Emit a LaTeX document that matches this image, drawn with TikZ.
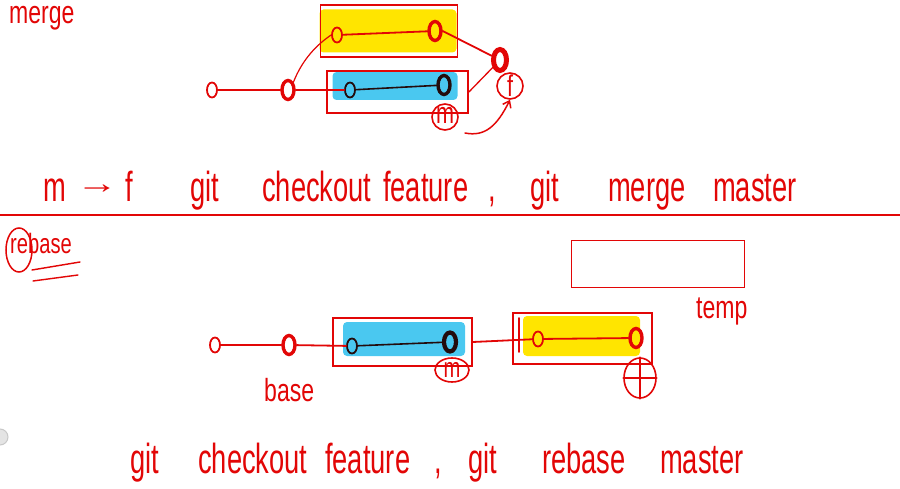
\documentclass[tikz,border=0pt]{standalone}
\usepackage{fontspec}
\setmainfont{Liberation Sans}
\newfontfamily\hand[FakeStretch=0.72]{Liberation Sans}
\newfontfamily\handnarrow[FakeStretch=0.65]{Liberation Sans}
\usetikzlibrary{shapes.geometric,arrows.meta}
\definecolor{pen}{RGB}{226,6,6}
\definecolor{hlyellow}{RGB}{255,229,0}
\definecolor{hlblue}{RGB}{74,200,240}
\definecolor{ink}{RGB}{35,12,12}
\definecolor{btn}{RGB}{200,200,200}
\begin{document}
\begin{tikzpicture}[x=1pt,y=-1pt,
  pen line/.style={draw=pen,line width=1.8pt,line cap=round,line join=round},
  ink line/.style={draw=ink,line width=1.6pt,line cap=round},
  commit/.style={ellipse,draw=pen,line width=1.8pt,minimum width=10pt,minimum height=15pt,inner sep=0pt},
  head commit/.style={commit,line width=3.4pt,minimum width=12pt,minimum height=19pt},
  dark commit/.style={commit,draw=ink},
  dark head/.style={head commit,draw=ink,line width=4.2pt},
  frame/.style={rectangle,draw=pen,line width=1.8pt,inner sep=0pt},
  highlight/.style={rectangle,inner sep=0pt,rounded corners=4pt},
  words/.style={text=pen,inner sep=0pt,anchor=base west,font=\handnarrow\fontsize{42}{44}\selectfont},
  tag/.style={circle,draw=pen,line width=1.6pt,text=pen,inner sep=0pt,minimum size=26pt,font=\hand\fontsize{30}{30}\selectfont},
  low letter/.style={text height=14pt,text depth=0pt}]
\useasboundingbox (0,0) rectangle (900,489);

% ---------------- merge ----------------
\node[words,font=\hand\fontsize{32}{32}\selectfont] (titleMerge) at (9,24) {merge};

\node[highlight,fill=hlyellow,minimum width=137pt,minimum height=43pt] (mYellowFill) at (388,31) {};
\node[highlight,fill=hlblue,minimum width=125pt,minimum height=28pt] (mBlueFill) at (395,86) {};
\node[frame,minimum width=137pt,minimum height=52pt] (mYellowBox) at (389,31) {};
\node[frame,minimum width=141pt,minimum height=42pt] (mBlueBox) at (397.5,92) {};

\node[commit] (mo0) at (212,90) {};
\node[head commit] (mo1) at (288,90) {};
\node[dark commit] (mb1) at (350,90) {};
\node[dark head,line width=3.4pt] (mb2) at (444,85) {};
\node[commit] (my1) at (337,35) {};
\node[head commit] (my2) at (435,31) {};
\node[head commit,line width=5pt,minimum width=13pt,minimum height=21pt] (mm) at (500,60) {};
\node[tag] (mf) at (510,86) {f};
\node[tag,low letter] (mmaster) at (445,117) {m};

\draw[pen line] (mo0) -- (mo1);
\draw[pen line] (mo1) -- (mb1);
\draw[ink line] (mb1) -- (mb2);
\draw[pen line] (my1) -- (my2);
\draw[pen line,line width=1.2pt] (mo1.north east) .. controls (303,58) and (318,44) .. (my1.west);
\draw[pen line] (my2.east) -- (mm);
\draw[pen line,line width=1.3pt] (mBlueBox.east) -- (mm);
\coordinate (arrowTail) at (465,133);
\draw[pen line,line width=1.5pt,-{Straight Barb[length=6pt,width=9pt]}] (arrowTail) .. controls (485,137) and (497,126) .. (mf.south);

% command line 1
\node[words] (l1m) at (43,202) {m};
\node[words,font=\fontsize{30}{30}\selectfont] (l1arrow) at (76,194) {\scalebox{1.4}[1]{→}};
\node[words] (l1f) at (125,202) {f};
\node[words] (l1git) at (190,202) {git};
\node[words] (l1checkout) at (262,202) {checkout};
\node[words] (l1feature) at (383,202) {feature};
\node[words] (l1comma) at (488,202) {,};
\node[words] (l1git2) at (530,202) {git};
\node[words] (l1merge) at (608,202) {merge};
\node[words] (l1master) at (713,202) {master};

\draw[pen line,line width=1.5pt] (0,215) -- (900,215);

% ---------------- rebase ----------------
\node[words,font=\hand\fontsize{28}{28}\selectfont] (titleRebase) at (10,254) {rebase};
\node[ellipse,draw=pen,line width=1.5pt,minimum width=26pt,minimum height=44pt] (rCircle) at (19,250) {};
\draw[pen line,line width=1.4pt] (32,270) -- (80,262);
\draw[pen line,line width=1.4pt] (33,281) -- (78,275);

\node[frame,minimum width=173pt,minimum height=47pt] (tempBox) at (658,264) {};
\node[words,font=\hand\fontsize{32}{32}\selectfont] (tempLabel) at (696,318) {temp};

\node[highlight,fill=hlblue,minimum width=122pt,minimum height=34pt] (rBlueFill) at (404,339) {};
\node[highlight,fill=hlyellow,minimum width=117pt,minimum height=40pt] (rYellowFill) at (581.5,336) {};
\node[frame,minimum width=139pt,minimum height=48pt] (rBlueBox) at (402.5,342) {};
\node[frame,minimum width=139pt,minimum height=51pt] (rYellowBox) at (582.5,338.5) {};
\draw[pen line] (519,318) -- (519,352);

\node[commit] (ro0) at (215,345) {};
\node[head commit] (ro1) at (289,345) {};
\node[dark commit] (rb1) at (352,346) {};
\node[dark head] (rb2) at (450,342) {};
\node[commit] (ry1) at (538,339) {};
\node[head commit] (ry2) at (636,338) {};
\node[ellipse,draw=pen,line width=1.6pt,text=pen,inner sep=0pt,minimum width=34pt,minimum height=24pt,font=\hand\fontsize{28}{28}\selectfont,low letter] (rmaster) at (452,370) {m};
\node[ellipse,draw=pen,line width=1.6pt,inner sep=0pt,minimum width=32pt,minimum height=40pt] (rfeature) at (640,378) {};
\draw[pen line,line width=1.5pt] (rfeature.north) -- (rfeature.south);
\draw[pen line,line width=1.5pt] (rfeature.west) -- (rfeature.east);
\node[words,font=\hand\fontsize{32}{32}\selectfont] (baseLabel) at (264,401) {base};

\draw[pen line] (ro0) -- (ro1);
\draw[pen line] (ro1) -- (rb1);
\draw[ink line] (rb1) -- (rb2);
\draw[pen line] (rBlueBox.east) -- (ry1);
\draw[pen line] (ry1) -- (ry2);

% command line 2
\node[words] (l2git) at (130,473) {git};
\node[words] (l2checkout) at (198,473) {checkout};
\node[words] (l2feature) at (325,473) {feature};
\node[words] (l2comma) at (434,473) {,};
\node[words] (l2git2) at (468,473) {git};
\node[words] (l2rebase) at (542,473) {rebase};
\node[words] (l2master) at (660,473) {master};

\node[circle,fill=btn!50,draw=btn,line width=1pt,minimum size=16pt] (sideButton) at (0,437) {};
\end{tikzpicture}
\end{document}
